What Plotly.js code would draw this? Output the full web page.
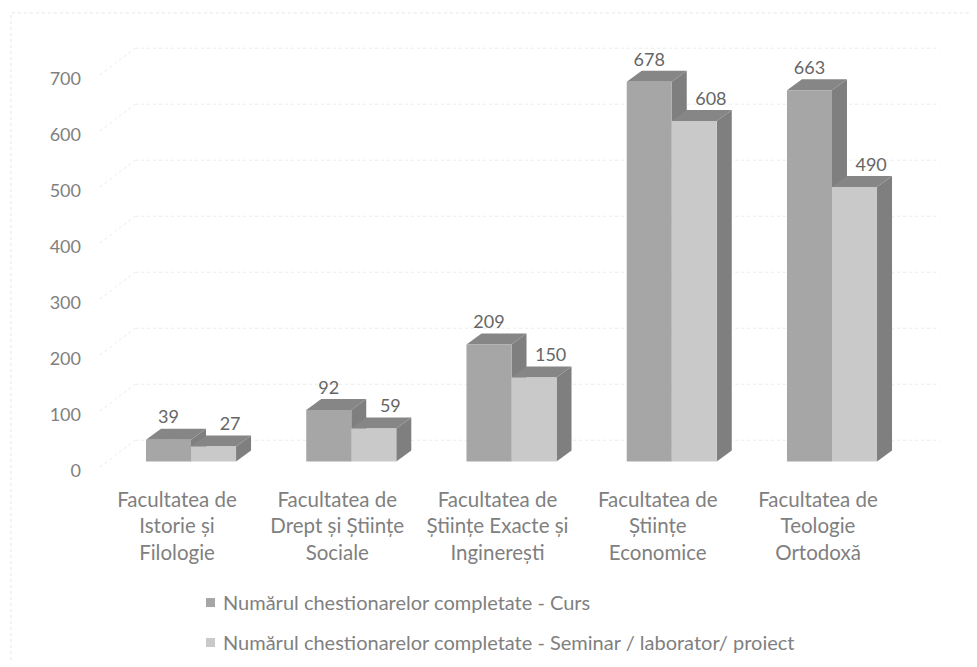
<!DOCTYPE html>
<html><head><meta charset="utf-8">
<script src="https://cdn.plot.ly/plotly-3.0.1.min.js"></script>
<style>html,body{margin:0;padding:0;background:#fff}</style></head>
<body><div id="chart" style="width:977px;height:667px"></div>
<script>
const faculties = ["Facultatea de<br>Istorie și<br>Filologie","Facultatea de<br>Drept și Științe<br>Sociale","Facultatea de<br>Științe Exacte și<br>Inginerești","Facultatea de<br>Științe<br>Economice","Facultatea de<br>Teologie<br>Ortodoxă"];
const curs = [39,92,209,678,663];
const seminar = [27,59,150,608,490];
const yTicks = [0,100,200,300,400,500,600,700];
const nameCurs = "Numărul chestionarelor completate - Curs";
const nameSem = "Numărul chestionarelor completate - Seminar / laborator/ proiect";

const xpos = faculties.map((_,i)=>i);
const xRange=[-0.568,4.674], yRange=[-33,770.5];
const BW=0.281, DX=0.0936, DY=19.6, WX=0.219, W0=-10, W1=38, LABEL_SHIFT=-16, LABEL_UP=37;
const FONT="Lato, Carlito, sans-serif", TXT="#808080", VAL="#666666";

function faces(vals, x0){
  const side={x:[],y:[]}, top={x:[],y:[]};
  vals.forEach((v,i)=>{
    const a=i+x0, b=a+BW;
    side.x.push(b,b+DX,b+DX,b,b,null); side.y.push(0,DY,v+DY,v,0,null);
    top.x.push(a,a+DX,b+DX,b,a,null); top.y.push(v,v+DY,v+DY,v,v,null);
  });
  return [side,top];
}
function poly(f,color){return {x:f.x,y:f.y,mode:'lines',fill:'toself',fillcolor:color,line:{width:0},hoverinfo:'skip',showlegend:false,type:'scatter'};}

const gridX=[],gridY=[],diagX=[],diagY=[];
yTicks.forEach(v=>{
  gridX.push(xRange[0]+WX,xRange[1],null); gridY.push(v+W1,v+W1,null);
  diagX.push(xRange[0],xRange[0]+WX,null); diagY.push(v+W0,v+W1,null);
});
const gridLine={mode:'lines',type:'scatter',line:{color:'#ebebeb',width:1,dash:'dot'},hoverinfo:'skip',showlegend:false};

const [s1,t1]=faces(curs,-BW);
const [s2,t2]=faces(seminar,0);
const data=[
  Object.assign({x:gridX,y:gridY},gridLine),
  Object.assign({x:diagX,y:diagY},gridLine),
  poly(s1,'#7f7f7f'),poly(t1,'#868686'),
  poly(s2,'#7f7f7f'),poly(t2,'#868686'),
  {type:'bar',x:xpos,y:curs,name:nameCurs,marker:{color:'#a6a6a6',line:{width:0}},xaxis:'x2',yaxis:'y2',width:BW,offset:-BW,legendgroup:'a',hoverinfo:'y'},
  {type:'bar',x:xpos,y:seminar,name:nameSem,marker:{color:'#c9c9c9',line:{width:0}},xaxis:'x2',yaxis:'y2',width:BW,offset:0,legendgroup:'b',hoverinfo:'y'},
  {type:'scatter',mode:'text',x:xpos.map(i=>i-BW/2),y:curs.map(v=>v+LABEL_UP),text:curs.map(String),textposition:'middle center',textfont:{family:FONT,size:18,color:VAL},xaxis:'x2',yaxis:'y2',showlegend:false,hoverinfo:'skip',cliponaxis:false},
  {type:'scatter',mode:'text',x:xpos.map(i=>i+BW/2+DX+0.01),y:seminar.map(v=>v+LABEL_UP),text:seminar.map(String),textposition:'middle center',textfont:{family:FONT,size:18,color:VAL},xaxis:'x2',yaxis:'y2',showlegend:false,hoverinfo:'skip',cliponaxis:false}
];
const layout={
  width:977,height:667,paper_bgcolor:'#ffffff',plot_bgcolor:'rgba(0,0,0,0)',
  margin:{l:100,r:37,t:30,b:187,autoexpand:false},
  font:{family:FONT,color:TXT},
  showlegend:true,
  legend:{x:0.0988,xanchor:'left',y:-0.229,yanchor:'top',orientation:'v',traceorder:'grouped',tracegroupgap:11,font:{family:FONT,size:20,color:TXT},bgcolor:'rgba(0,0,0,0)'},
  xaxis:{range:xRange,tickmode:'array',tickvals:xpos,ticktext:faculties,ticks:'',ticklabelshift:-14,ticklabelstandoff:5,tickangle:0,showgrid:false,zeroline:false,showline:false,tickfont:{family:FONT,size:20.5,color:TXT}},
  yaxis:{range:yRange,tickmode:'array',tickvals:yTicks.map(v=>v+LABEL_SHIFT),ticktext:yTicks.map(String),ticks:'',ticklabelstandoff:18,showgrid:false,zeroline:false,showline:false,tickfont:{family:FONT,size:18,color:TXT}},
  xaxis2:{range:xRange,overlaying:'x',visible:false},
  yaxis2:{range:yRange,overlaying:'y',visible:false},
  shapes:[{type:'path',xref:'paper',yref:'paper',path:'M -0.106,-0.4 L -0.106,1.038 L 1.038,1.038',line:{color:'#e6e6e6',width:1,dash:'dot'}}]
};
function tweakLegend(){
  document.querySelectorAll('.legend .legendpoints path').forEach(p=>p.setAttribute('transform','translate(27.5,0) scale(0.75)'));
}
Plotly.newPlot('chart',data,layout,{displayModeBar:false,staticPlot:true}).then(gd=>{
  tweakLegend();
  requestAnimationFrame(tweakLegend);
  setTimeout(tweakLegend,50);
});
</script></body></html>
